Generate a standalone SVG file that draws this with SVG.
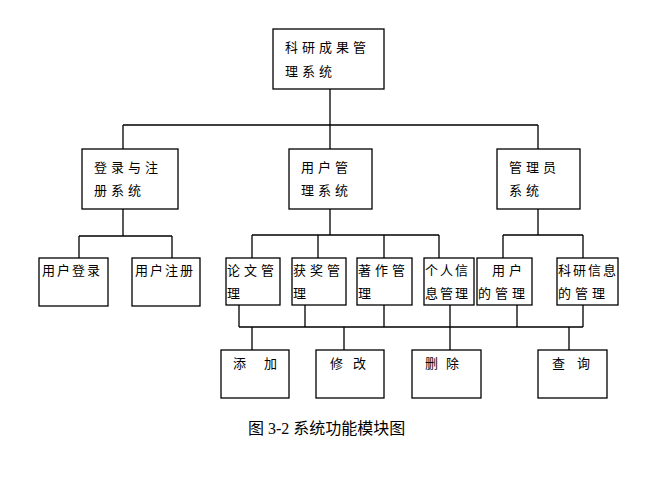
<svg xmlns="http://www.w3.org/2000/svg" width="662" height="503" viewBox="0 0 662 503">
<style>
rect{fill:#fff;stroke:#000;stroke-width:1.3}
.c path{fill:none;stroke:#000;stroke-width:1.3}
text{font-family:"Noto Sans CJK SC",sans-serif;font-size:13px;fill:#000;letter-spacing:4px}
.cap{font-family:"Liberation Serif","Noto Sans CJK SC",serif;font-size:16px;letter-spacing:0}
</style>
<rect width="662" height="503" style="stroke:none"/>
<g class="c">
<path d="M330 89V125M123 125H538M123 125V149M330 125V149M538 125V149"/>
<path d="M123 209V236M79 236H172M79 236V258M172 236V258"/>
<path d="M330 209V235M252 235H439M252 235V258M318 235V258M384 235V258M439 235V258"/>
<path d="M538 209V235M503 235H583M503 235V258M583 235V258"/>
<path d="M239 305V327M305 305V327M384 305V327M450 305V327M517 305V327M583 305V327M239 327H583"/>
<path d="M252 327V350M344 327V350M450 327V350M569 327V350"/>
</g>
<g id="root"><rect x="273" y="29" width="111" height="60"/><text x="285" y="52">科研成果管</text><text x="285" y="76">理系统</text></g>
<g id="login"><rect x="82" y="149" width="96" height="60"/><text x="94" y="172">登录与注</text><text x="94" y="195">册系统</text></g>
<g id="user"><rect x="289" y="149" width="83" height="60"/><text x="301" y="172">用户管</text><text x="301" y="195">理系统</text></g>
<g id="admin"><rect x="497" y="149" width="83" height="60"/><text x="509" y="172">管理员</text><text x="509" y="195">系统</text></g>
<g id="ulogin"><rect x="39" y="258" width="69" height="48"/><text x="42" y="275" style="letter-spacing:2px">用户登录</text></g>
<g id="ureg"><rect x="132" y="258" width="68" height="48"/><text x="135" y="275" style="letter-spacing:2px">用户注册</text></g>
<g id="paper"><rect x="226" y="258" width="54" height="47"/><text x="227" y="275">论文管</text><text x="227" y="298">理</text></g>
<g id="award"><rect x="292" y="258" width="54" height="47"/><text x="293" y="275">获奖管</text><text x="293" y="298">理</text></g>
<g id="book"><rect x="357" y="258" width="55" height="47"/><text x="358" y="275">著作管</text><text x="358" y="298">理</text></g>
<g id="info"><rect x="424" y="258" width="50" height="47"/><text x="425" y="275" style="letter-spacing:2px">个人信</text><text x="425" y="298" style="letter-spacing:2px">息管理</text></g>
<g id="umgr"><rect x="477" y="258" width="55" height="47"/><text x="492" y="275">用户</text><text x="478" y="298">的管理</text></g>
<g id="rmgr"><rect x="557" y="258" width="61" height="47"/><text x="558" y="275" style="letter-spacing:2px">科研信息</text><text x="558" y="298">的管理</text></g>
<g id="add"><rect x="221" y="350" width="68" height="48"/><text x="233" y="368" style="letter-spacing:18px">添加</text></g>
<g id="edit"><rect x="316" y="350" width="68" height="48"/><text x="330" y="368" style="letter-spacing:10px">修改</text></g>
<g id="del"><rect x="412" y="350" width="69" height="48"/><text x="425" y="368" style="letter-spacing:8px">删除</text></g>
<g id="query"><rect x="538" y="350" width="69" height="48"/><text x="552" y="368" style="letter-spacing:12px">查询</text></g>
<text class="cap" x="248" y="434">图 3-2 系统功能模块图</text>
</svg>
